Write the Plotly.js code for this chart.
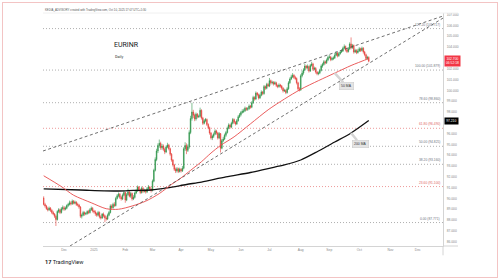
<!DOCTYPE html>
<html>
<head>
<meta charset="utf-8">
<script src="https://cdn.plot.ly/plotly-3.0.1.min.js"></script>
<style>
  html, body { margin: 0; padding: 0; background: #ffffff; }
  #wrap { position: relative; width: 500px; height: 280px; }
  #chart { position: absolute; left: 0; top: 0; width: 500px; height: 280px; }
  #frame { position: absolute; left: 2px; top: 2px; width: 496px; height: 276px; box-sizing: border-box;
           border: 1.5px solid #f3c4c4; pointer-events: none; }
</style>
</head>
<body>
<div id="wrap"><div id="chart"></div><div id="frame"></div></div>
<script>
// ---------------- DATA ----------------
const symbol = "EURINR";
const interval = "Daily";
const headerText = "KEDIA_ADVISORY created with TradingView.com, Oct 10, 2025 17:07 UTC+5:30";

// first trading day shown and the open of its candle
const firstDay = "2024-11-11";
const firstOpen = 90.05;

// daily closes, Nov 11 2024 .. Oct 10 2025 (weekdays)
const closes = [
  // Nov 2024
  89.45, 89.30, 89.05, 88.95, 89.10, 88.90, 88.70, 88.55, 88.35, 88.05, 88.80, 88.95, 88.70, 89.05, 89.15,
  // Dec 2024
  89.00, 89.10, 89.35, 89.45, 89.60, 89.50, 89.75, 89.55, 89.65, 89.45, 89.40, 89.20, 88.35, 88.45, 88.70, 88.55, 88.60, 88.80, 88.70, 88.95, 89.10, 88.85,
  // Jan 2025
  88.75, 88.60, 88.45, 88.70, 88.30, 88.20, 88.55, 88.40, 88.20, 88.10, 88.45, 88.70, 89.30, 89.15, 89.45, 89.35, 90.00, 90.25, 90.40, 90.10, 89.95, 90.30, 90.55,
  // Feb
  89.85, 90.35, 90.60, 90.20, 90.45, 89.95, 90.10, 90.50, 90.70, 91.05, 90.80, 90.55, 90.95, 90.65, 90.75, 90.60, 90.90, 91.05, 90.85, 90.75,
  // Mar
  91.60, 92.60, 93.60, 94.40, 94.90, 95.10, 94.70, 94.85, 94.55, 94.30, 94.75, 94.95, 94.60, 94.10, 93.55, 93.10, 92.70, 92.55, 92.75, 92.50, 92.70,
  // Apr
  92.55, 92.80, 94.60, 94.90, 94.45, 94.75, 96.10, 97.40, 98.00, 97.70, 97.35, 97.80, 97.55, 97.60, 98.15, 97.45, 96.95, 97.20, 97.30, 96.85, 96.55, 96.05,
  // May
  95.60, 95.75, 95.95, 96.25, 96.05, 95.60, 96.00, 94.65, 95.35, 95.50, 95.85, 96.10, 96.50, 96.80, 96.60, 96.95, 97.30, 97.05, 96.90, 97.20, 97.55, 97.75,
  // Jun
  97.95, 98.05, 98.10, 98.35, 98.25, 98.30, 98.55, 98.45, 98.85, 99.35, 99.20, 99.75, 99.60, 99.30, 99.55, 99.85, 99.70, 100.35, 100.20, 100.55, 100.40,
  // Jul
  100.90, 100.70, 100.75, 100.60, 100.70, 100.45, 100.35, 100.50, 100.40, 100.20, 99.95, 100.00, 99.80, 100.15, 100.70, 101.05, 101.25, 101.40, 101.20, 101.10, 100.70, 100.15, 100.05,
  // Aug
  101.35, 101.60, 101.90, 102.25, 102.10, 102.20, 101.80, 102.30, 102.45, 101.95, 102.05, 101.70, 101.55, 101.60, 101.85, 102.25, 102.40, 102.65, 102.55, 102.80, 103.05,
  // Sep
  103.10, 102.85, 102.95, 103.00, 103.25, 103.45, 103.20, 103.40, 103.55, 103.65, 103.90, 104.05, 103.75, 103.60, 103.85, 104.30, 103.95, 104.15, 103.55, 103.70, 103.50, 103.65,
  // Oct
  103.85, 103.70, 103.90, 103.55, 103.30, 102.95, 103.05, 102.70
];

const highs = [
  90.20, 89.60, 89.40, 89.20, 89.25, 89.20, 89.00, 88.85, 88.65, 88.50, 88.90, 89.10, 89.05, 89.20, 89.35,
  89.30, 89.25, 89.45, 89.60, 89.80, 89.75, 89.90, 89.85, 89.80, 89.75, 89.60, 89.50, 89.30, 88.60, 88.85, 88.80, 88.75, 88.90, 88.95, 89.10, 89.25, 89.20,
  88.95, 88.90, 88.70, 88.85, 88.80, 88.45, 88.65, 88.70, 88.50, 88.35, 88.60, 88.85, 89.45, 89.45, 89.60, 89.65, 90.15, 90.40, 90.55, 90.50, 90.25, 90.45, 90.70,
  90.60, 90.50, 90.90, 90.70, 90.60, 90.55, 90.30, 90.65, 90.85, 91.20, 91.15, 90.90, 91.10, 91.05, 90.90, 90.85, 91.05, 91.25, 91.15, 91.00,
  91.75, 92.75, 93.80, 94.60, 95.10, 95.45, 95.25, 95.05, 95.00, 94.70, 94.90, 95.15, 95.05, 94.70, 94.20, 93.65, 93.20, 92.85, 92.90, 92.85, 92.85,
  92.80, 93.00, 94.75, 95.20, 95.10, 95.00, 96.30, 97.65, 98.85, 98.20, 97.85, 97.95, 97.90, 97.75, 98.40, 98.25, 97.55, 97.35, 97.45, 97.40, 96.95, 96.65,
  96.15, 95.90, 96.10, 96.40, 96.35, 96.15, 96.15, 96.05, 95.50, 95.70, 96.00, 96.25, 96.65, 96.95, 96.90, 97.10, 97.45, 97.40, 97.15, 97.35, 97.70, 97.90,
  98.10, 98.25, 98.30, 98.50, 98.45, 98.45, 98.70, 98.65, 99.00, 99.50, 99.45, 99.90, 99.85, 99.70, 99.70, 100.00, 99.95, 100.50, 100.45, 100.70, 100.70,
  101.15, 101.00, 100.90, 100.85, 100.85, 100.80, 100.55, 100.65, 100.60, 100.50, 100.30, 100.15, 100.10, 100.30, 100.85, 101.20, 101.45, 101.60, 101.50, 101.35, 101.20, 100.80, 100.30,
  101.50, 101.80, 102.05, 102.45, 102.35, 102.40, 102.30, 102.45, 102.65, 102.55, 102.20, 102.15, 101.80, 101.75, 102.00, 102.40, 102.55, 102.80, 102.75, 102.95, 103.20,
  103.30, 103.20, 103.10, 103.15, 103.45, 103.60, 103.55, 103.55, 103.70, 103.80, 104.05, 104.25, 104.15, 103.85, 104.00, 104.45, 104.90, 104.30, 104.25, 103.85, 103.80, 103.85,
  104.00, 103.95, 104.05, 104.00, 103.65, 103.40, 103.20, 103.15
];

const lows = [
  89.35, 89.15, 88.95, 88.80, 88.85, 88.75, 88.55, 88.45, 88.20, 87.45, 87.95, 88.65, 88.55, 88.60, 88.90,
  88.85, 88.90, 89.00, 89.20, 89.35, 89.35, 89.40, 89.45, 89.45, 89.30, 89.25, 89.05, 88.20, 88.15, 88.35, 88.40, 88.45, 88.50, 88.55, 88.60, 88.85, 88.70,
  88.60, 88.40, 88.30, 88.35, 88.15, 88.05, 88.10, 88.25, 87.80, 87.95, 88.00, 88.35, 88.60, 89.00, 89.05, 89.20, 89.25, 89.90, 90.10, 89.95, 89.80, 89.85, 90.20,
  89.60, 89.75, 90.25, 90.10, 90.05, 89.80, 89.85, 90.00, 90.40, 90.60, 90.65, 90.40, 90.45, 90.50, 90.55, 90.45, 90.50, 90.80, 90.70, 90.55,
  90.65, 91.50, 92.50, 93.45, 94.20, 94.70, 94.50, 94.50, 94.40, 94.10, 94.20, 94.65, 94.45, 93.95, 93.40, 92.95, 92.55, 92.35, 92.40, 92.35, 92.40,
  92.40, 92.45, 92.70, 94.40, 94.10, 94.30, 94.60, 95.95, 97.20, 97.45, 97.15, 97.20, 97.40, 97.45, 97.50, 97.30, 96.80, 96.85, 97.05, 96.70, 96.40, 95.90,
  95.45, 95.40, 95.60, 95.85, 95.90, 95.45, 95.50, 94.25, 94.55, 95.20, 95.40, 95.70, 96.00, 96.40, 96.45, 96.50, 96.85, 96.90, 96.75, 96.80, 97.10, 97.45,
  97.60, 97.85, 97.90, 98.00, 98.10, 98.10, 98.20, 98.30, 98.35, 98.75, 99.05, 99.10, 99.45, 99.15, 99.20, 99.45, 99.55, 99.60, 100.05, 100.10, 100.30,
  100.30, 100.55, 100.55, 100.45, 100.50, 100.30, 100.20, 100.25, 100.25, 100.05, 99.80, 99.85, 99.65, 99.70, 100.05, 100.60, 100.95, 101.15, 101.05, 100.95, 100.55, 100.00, 99.90,
  99.95, 101.20, 101.45, 101.80, 101.95, 101.95, 101.65, 101.70, 102.20, 101.80, 101.85, 101.55, 101.40, 101.40, 101.50, 101.75, 102.10, 102.30, 102.40, 102.45, 102.70,
  102.95, 102.70, 102.75, 102.80, 102.90, 103.15, 103.05, 103.10, 103.30, 103.45, 103.55, 103.80, 103.60, 103.45, 103.50, 103.75, 103.80, 103.85, 103.40, 103.45, 103.35, 103.40,
  103.55, 103.55, 103.60, 103.40, 103.15, 102.80, 102.85, 102.60
];

// moving averages, sampled at bar numbers (0 = first candle)
const ma50Bar  = [0, 13, 22, 35, 46, 55, 65, 75, 85, 94, 101, 108, 116, 123, 130, 140, 152, 165, 177, 189, 202, 214, 226, 236, 239];
const ma50     = [92.1, 91.1, 90.3, 89.6, 89.05, 89.0, 89.3, 89.75, 90.45, 91.3, 91.9, 92.6, 93.4, 94.2, 94.9, 95.7, 96.9, 98.2, 99.2, 100.1, 100.9, 101.6, 102.3, 102.8, 102.95];
const ma200Bar = [0, 27, 55, 66, 79, 91, 105, 116, 134, 152, 165, 177, 189, 202, 214, 226, 239];
const ma200    = [90.88, 90.78, 90.69, 90.74, 90.78, 90.97, 91.29, 91.52, 91.99, 92.40, 92.77, 93.10, 93.56, 94.39, 95.22, 96.06, 97.21];

// drawn trend lines (end points: date, price)
const trendUpperX = ["2024-11-08 12:00", "2025-12-25 14:00"];
const trendUpperY = [94.39, 106.88];
const trendLowerX = ["2024-12-06 08:00", "2025-12-25 14:00"];
const trendLowerY = [85.60, 106.69];

// fibonacci retracement levels
const fibRatio = ["127.20", "100.00", "78.60", "61.80", "50.00", "38.20", "23.60", "0.00"];
const fibPrice = [105.717, 101.879, 98.860, 96.490, 94.825, 93.160, 91.100, 87.771];
const fibRed   = [false, false, false, true, false, false, true, false];

// axes
const xRange = ["2024-11-08 12:00", "2025-12-25 14:00"];
const yRange = [85.60, 107.16];
const tickDates = ["2024-12-02", "2025-01-01", "2025-02-03", "2025-03-03", "2025-04-01", "2025-05-01",
                   "2025-06-02", "2025-07-01", "2025-08-01", "2025-09-01", "2025-10-01", "2025-11-03", "2025-12-01"];
const tickText  = ["Dec", "2025", "Feb", "Mar", "Apr", "May", "Jun", "Jul", "Aug", "Sep", "Oct", "Nov", "Dec"];
const yTicks = [86, 87, 88, 89, 90, 91, 92, 93, 94, 95, 96, 97, 98, 99, 100, 101, 102, 103, 104, 105, 106, 107];
const countdown = "06:52:18";

// ---------------- BUILD ----------------
const GREEN = "#2b9348", RED = "#e5403a";
const dates = [];
{
  const d = new Date(firstDay + "T00:00:00Z");
  while (dates.length < closes.length) {
    const wd = d.getUTCDay();
    if (wd !== 0 && wd !== 6) dates.push(d.toISOString().slice(0, 10));
    d.setUTCDate(d.getUTCDate() + 1);
  }
}
const opens = [firstOpen].concat(closes.slice(0, -1));
const last = closes.length - 1;
const lastClose = closes[last];
const lastMa200 = ma200[ma200.length - 1];

// scale labels hidden under the two value boxes on the price scale (as in the reference)
const yTickText = yTicks.map(v =>
  (Math.abs(v - lastClose) < 0.6 || Math.abs(v - lastMa200) < 0.45) ? "" : v.toFixed(3));

const traces = [
  {
    type: "candlestick", x: dates, open: opens, high: highs, low: lows, close: closes,
    increasing: { line: { color: GREEN, width: 0.6 }, fillcolor: GREEN },
    decreasing: { line: { color: RED, width: 0.6 }, fillcolor: RED },
    whiskerwidth: 0, hoverinfo: "skip"
  },
  {
    type: "scatter", mode: "lines", x: ma200Bar.map(i => dates[i]), y: ma200,
    line: { color: "#111111", width: 1.3, shape: "spline", smoothing: 0.8 }, hoverinfo: "skip"
  },
  {
    type: "scatter", mode: "lines", x: ma50Bar.map(i => dates[i]), y: ma50,
    line: { color: "#e84b4b", width: 0.9, shape: "spline", smoothing: 0.8 }, hoverinfo: "skip"
  },
  {
    type: "scatter", mode: "lines", x: trendUpperX, y: trendUpperY,
    line: { color: "#4a4a4a", width: 0.8, dash: "3px,2.5px" }, hoverinfo: "skip"
  },
  {
    type: "scatter", mode: "lines", x: trendLowerX, y: trendLowerY,
    line: { color: "#4a4a4a", width: 0.8, dash: "3px,2.5px" }, hoverinfo: "skip"
  }
];

const shapes = fibPrice.map((p, k) => ({
  type: "line", xref: "paper", x0: 0, x1: 1, yref: "y", y0: p, y1: p, layer: "below",
  line: { color: fibRed[k] ? "#e88080" : "#9a9a9a", width: 0.8, dash: "1px,2px" }
}));
shapes.push(
  { type: "line", xref: "paper", yref: "paper", x0: 1, x1: 1.0375, y0: 0, y1: 0, line: { color: "#d4d4d4", width: 1 } },
  { type: "line", xref: "paper", yref: "paper", x0: 1, x1: 1, y0: 0, y1: -0.04, line: { color: "#d4d4d4", width: 1 } },
  { type: "line", xref: "paper", yref: "paper", x0: 0, x1: 1.0375, y0: 1, y1: 1, line: { color: "#f0f0f0", width: 1 } }
);

const FONT = "Liberation Sans, Arial, sans-serif";
const annotations = [
  { xref: "paper", yref: "paper", x: 0, y: 1.013, xanchor: "left", yanchor: "middle", showarrow: false,
    text: headerText, font: { family: FONT, size: 2.8, color: "#555555" } },
  { xref: "paper", yref: "paper", x: 0.172, y: 0.862, xanchor: "left", yanchor: "middle", showarrow: false,
    text: symbol, font: { family: "Roboto, sans-serif", size: 7, color: "#131722" } },
  { xref: "paper", yref: "paper", x: 0.175, y: 0.815, xanchor: "left", yanchor: "middle", showarrow: false,
    text: interval, font: { family: "Roboto, sans-serif", size: 3.8, color: "#333333" } },
  { xref: "paper", yref: "paper", x: 0, y: -0.069, xanchor: "left", yanchor: "middle", showarrow: false,
    text: "<b>17</b> TradingView", font: { family: "Roboto, sans-serif", size: 5.6, color: "#131722" } }
];
fibPrice.forEach((p, k) => annotations.push({
  xref: "paper", yref: "y", x: 0.997, y: p, yshift: 4, xanchor: "right", yanchor: "middle", showarrow: false,
  text: fibRatio[k] + " (" + p.toFixed(3) + ")",
  font: { family: FONT, size: 3.3, color: fibRed[k] ? "#e06666" : "#6f7380" }
}));
// price label and 200 MA value on the scale
annotations.push(
  { xref: "paper", yref: "y", x: 1.002, y: lastClose, xanchor: "left", yanchor: "middle", showarrow: false,
    text: lastClose.toFixed(3) + "<br>" + countdown, bgcolor: "#f23645", borderpad: 1,
    font: { family: FONT, size: 3.3, color: "#ffffff" } },
  { xref: "paper", yref: "y", x: 1.002, y: lastMa200, xanchor: "left", yanchor: "middle", showarrow: false,
    text: lastMa200.toFixed(3), bgcolor: "#000000", borderpad: 1.2,
    font: { family: FONT, size: 3.3, color: "#ffffff" } }
);
// MA callouts
annotations.push(
  { x: dates[ma50Bar[21]], y: ma50[21], ax: 12, ay: 13, showarrow: true, arrowhead: 0, arrowwidth: 2.5,
    arrowcolor: "#d5d5d5", standoff: 0, text: "50 MA", bgcolor: "#e4e4e4", bordercolor: "#c9c9c9",
    borderwidth: 0.5, borderpad: 1.6, font: { family: FONT, size: 3.4, color: "#333333" } },
  { x: dates[ma200Bar[15]], y: ma200[15], ax: 9, ay: 11, showarrow: true, arrowhead: 0, arrowwidth: 2.5,
    arrowcolor: "#d5d5d5", standoff: 0, text: "200 MA", bgcolor: "#e4e4e4", bordercolor: "#c9c9c9",
    borderwidth: 0.5, borderpad: 1.6, font: { family: FONT, size: 3.4, color: "#333333" } }
);

const layout = {
  width: 500, height: 280,
  margin: { l: 43, r: 57, t: 13, b: 34, pad: 0 },
  paper_bgcolor: "#ffffff", plot_bgcolor: "#ffffff",
  showlegend: false,
  font: { family: FONT, size: 4, color: "#787b86" },
  xaxis: {
    type: "date", range: xRange, rangebreaks: [{ bounds: ["sat", "mon"] }],
    rangeslider: { visible: false }, showgrid: false, zeroline: false,
    showline: true, linecolor: "#d4d4d4", linewidth: 1,
    tickmode: "array", tickvals: tickDates, ticktext: tickText, ticks: "",
    tickfont: { family: FONT, size: 3.3, color: "#888888" }
  },
  yaxis: {
    side: "right", range: yRange, showgrid: false, zeroline: false,
    showline: true, linecolor: "#d4d4d4", linewidth: 1,
    tickmode: "array", tickvals: yTicks, ticktext: yTickText, ticks: "",
    tickfont: { family: FONT, size: 3.3, color: "#888888" }, ticklabelstandoff: 2
  },
  shapes: shapes,
  annotations: annotations
};

Plotly.newPlot("chart", traces, layout, { staticPlot: true, displayModeBar: false });
</script>
</body>
</html>
